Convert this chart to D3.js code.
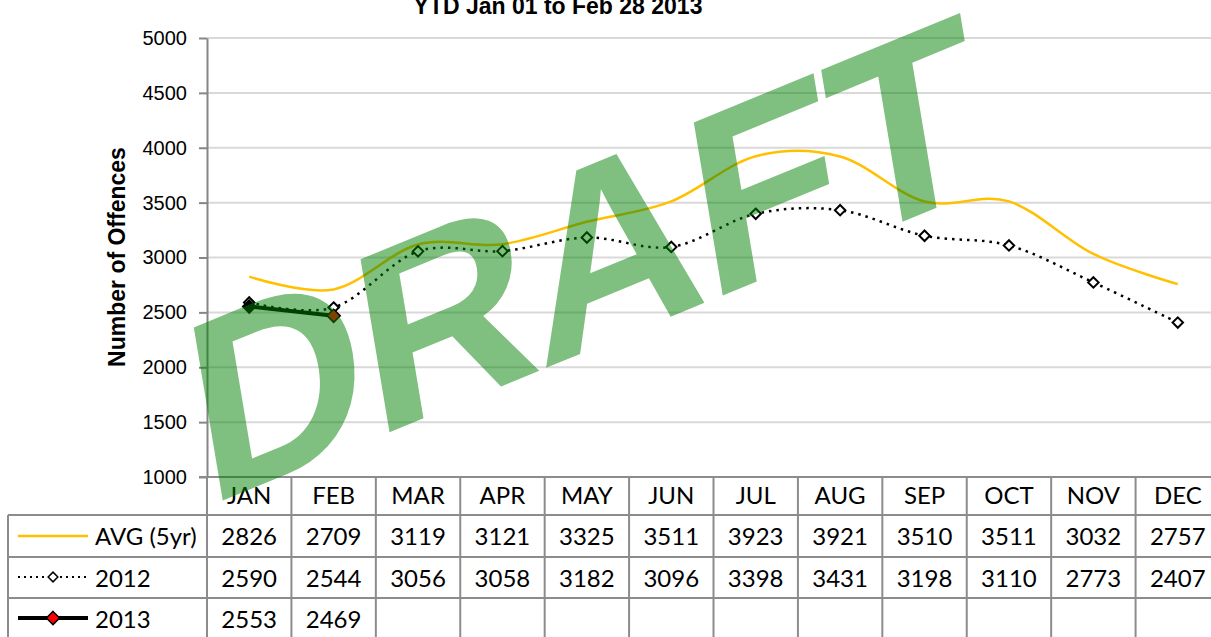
<!DOCTYPE html>
<html>
<head>
<meta charset="utf-8">
<script src="https://cdn.jsdelivr.net/npm/d3@7"></script>
<style>
  body { margin: 0; background: #fff; }
  svg { display: block; }
  .tbl-text { font-family: Lato, "Open Sans", sans-serif; font-size: 24px; fill: #000; }
</style>
</head>
<body>
<div id="chart"></div>
<script>
// --- Data ---
const months = ["JAN", "FEB", "MAR", "APR", "MAY", "JUN", "JUL", "AUG", "SEP", "OCT", "NOV", "DEC"];
const avg5yr = [2826, 2709, 3119, 3121, 3325, 3511, 3923, 3921, 3510, 3511, 3032, 2757];
const values2012 = [2590, 2544, 3056, 3058, 3182, 3096, 3398, 3431, 3198, 3110, 2773, 2407];
const values2013 = [2553, 2469];
const yTicks = [1000, 1500, 2000, 2500, 3000, 3500, 4000, 4500, 5000];
const seriesNames = ["AVG (5yr)", "2012", "2013"];

const W = 1211, H = 637;
const svg = d3.select("#chart").append("svg")
    .attr("width", W)
    .attr("height", H);

// plot area (right edge runs past the window, like the original)
const plotL = 207, plotR = 1220, plotT = 38, plotB = 477;
const rowTops = [515, 557, 598, 640]; // table row tops

const x = d3.scaleBand().domain(months).range([plotL, plotR]).padding(0);
const cx = m => x(m) + x.bandwidth() / 2;
const y = d3.scaleLinear().domain([1000, 5000]).range([plotB, plotT]);

// --- Title (top is cut off in the original too) ---
svg.append("text")
    .attr("x", 558)
    .attr("y", 14)
    .attr("text-anchor", "middle")
    .style("font-family", "'Liberation Sans', Arial, sans-serif")
    .style("font-weight", "bold")
    .style("font-size", "23px")
    .text("YTD Jan 01 to Feb 28 2013");

// --- Gridlines ---
svg.append("g")
    .selectAll("line")
    .data(yTicks.filter(t => t > 1000))
    .enter().append("line")
    .attr("x1", plotL).attr("x2", plotR)
    .attr("y1", d => y(d)).attr("y2", d => y(d))
    .attr("stroke", "#d9d9d9")
    .attr("stroke-width", 2);

// --- Y axis ---
const yAxis = svg.append("g")
    .attr("transform", `translate(${plotL},0)`)
    .call(d3.axisLeft(y).tickValues(yTicks).tickSize(8).tickPadding(12).tickSizeOuter(0).tickFormat(d3.format("d")));
yAxis.select(".domain").attr("stroke", "#868686").attr("stroke-width", 2);
yAxis.selectAll(".tick line").attr("stroke", "#868686").attr("stroke-width", 2);
yAxis.selectAll(".tick text")
    .style("font-family", "'Liberation Sans', Arial, sans-serif")
    .style("font-size", "20px")
    .attr("fill", "#000");

svg.append("text")
    .attr("transform", `translate(125,257) rotate(-90)`)
    .attr("text-anchor", "middle")
    .style("font-family", "'Liberation Sans', Arial, sans-serif")
    .style("font-weight", "bold")
    .style("font-size", "23px")
    .text("Number of Offences");

// --- Data table ---
const tbl = svg.append("g");
const borderColor = "#8c8c8c";

// horizontal lines
tbl.selectAll(".hline")
    .data([plotB, ...rowTops.slice(0, 3)])
    .enter().append("line")
    .attr("class", "hline")
    .attr("x1", (d, i) => i === 0 ? plotL - 8 : 8)
    .attr("x2", plotR)
    .attr("y1", d => d).attr("y2", d => d)
    .attr("stroke", borderColor)
    .attr("stroke-width", 2);

// vertical lines at column boundaries
tbl.selectAll(".vline")
    .data(months)
    .enter().append("line")
    .attr("class", "vline")
    .attr("x1", d => x(d)).attr("x2", d => x(d))
    .attr("y1", plotB).attr("y2", H)
    .attr("stroke", borderColor)
    .attr("stroke-width", 2);

tbl.append("line")
    .attr("x1", 8).attr("x2", 8)
    .attr("y1", rowTops[0]).attr("y2", H)
    .attr("stroke", borderColor)
    .attr("stroke-width", 2);

// month headers
tbl.selectAll(".month")
    .data(months)
    .enter().append("text")
    .attr("class", "tbl-text")
    .attr("x", d => cx(d))
    .attr("y", 504)
    .attr("text-anchor", "middle")
    .text(d => d);

// values
const tableRows = [avg5yr, values2012, values2013];
tableRows.forEach((vals, r) => {
    tbl.selectAll(`.val-${r}`)
        .data(vals)
        .enter().append("text")
        .attr("class", "tbl-text")
        .attr("x", (d, i) => cx(months[i]))
        .attr("y", rowTops[r] + 30)
        .attr("text-anchor", "middle")
        .text(d => d);

    tbl.append("text")
        .attr("class", "tbl-text")
        .attr("x", 95)
        .attr("y", rowTops[r] + 30)
        .text(seriesNames[r]);
});

// --- Diamond marker ---
const diamond = d3.symbol().type(d3.symbolDiamond2);

// legend keys in table
const keyY = [536, 577, 618];
tbl.append("line")
    .attr("x1", 18).attr("x2", 88).attr("y1", keyY[0]).attr("y2", keyY[0])
    .attr("stroke", "#FFC000").attr("stroke-width", 2.5);
tbl.append("line")
    .attr("x1", 18).attr("x2", 88).attr("y1", keyY[1]).attr("y2", keyY[1])
    .attr("stroke", "#000").attr("stroke-width", 2).attr("stroke-dasharray", "2,4");
tbl.append("path")
    .attr("d", diamond.size(60)())
    .attr("transform", `translate(53,${keyY[1]})`)
    .attr("fill", "#fff").attr("stroke", "#000").attr("stroke-width", 1.5);
tbl.append("line")
    .attr("x1", 18).attr("x2", 88).attr("y1", keyY[2]).attr("y2", keyY[2])
    .attr("stroke", "#000").attr("stroke-width", 4);
tbl.append("path")
    .attr("d", diamond.size(110)())
    .attr("transform", `translate(53,${keyY[2]})`)
    .attr("fill", "#ff0000").attr("stroke", "#000").attr("stroke-width", 1.5);

// --- Lines ---
const smooth = d3.line()
    .x((d, i) => cx(months[i]))
    .y(d => y(d))
    .curve(d3.curveCardinal.tension(0));

svg.append("path")
    .datum(avg5yr)
    .attr("d", smooth)
    .attr("fill", "none")
    .attr("stroke", "#FFC000")
    .attr("stroke-width", 2.5);

svg.append("path")
    .datum(values2012)
    .attr("d", smooth)
    .attr("fill", "none")
    .attr("stroke", "#000")
    .attr("stroke-width", 2.5)
    .attr("stroke-dasharray", "2.5,5");

svg.selectAll(".m2012")
    .data(values2012)
    .enter().append("path")
    .attr("class", "m2012")
    .attr("d", diamond.size(70)())
    .attr("transform", (d, i) => `translate(${cx(months[i])},${y(d)})`)
    .attr("fill", "#fff")
    .attr("stroke", "#000")
    .attr("stroke-width", 2);

svg.append("path")
    .datum(values2013)
    .attr("d", d3.line().x((d, i) => cx(months[i])).y(d => y(d)))
    .attr("fill", "none")
    .attr("stroke", "#000")
    .attr("stroke-width", 4);

svg.selectAll(".m2013")
    .data(values2013)
    .enter().append("path")
    .attr("class", "m2013")
    .attr("d", diamond.size(110)())
    .attr("transform", (d, i) => `translate(${cx(months[i])},${y(d)})`)
    .attr("fill", (d, i) => i === values2013.length - 1 ? "#ff0000" : "#000")
    .attr("stroke", "#000")
    .attr("stroke-width", 1.5);

// --- DRAFT watermark (rotated baseline, slanted stems) ---
const base = 22.3 * Math.PI / 180, stem = 9.5 * Math.PI / 180;
svg.append("text")
    .attr("transform", `matrix(${Math.cos(base)},${-Math.sin(base)},${Math.sin(stem)},${Math.cos(stem)},207,507)`)
    .style("font-family", "'Liberation Sans', Arial, sans-serif")
    .style("font-weight", "bold")
    .style("font-size", "255px")
    .style("letter-spacing", "-4px")
    .attr("fill", "#008000")
    .attr("fill-opacity", 0.5)
    .text("DRAFT");
</script>
</body>
</html>
